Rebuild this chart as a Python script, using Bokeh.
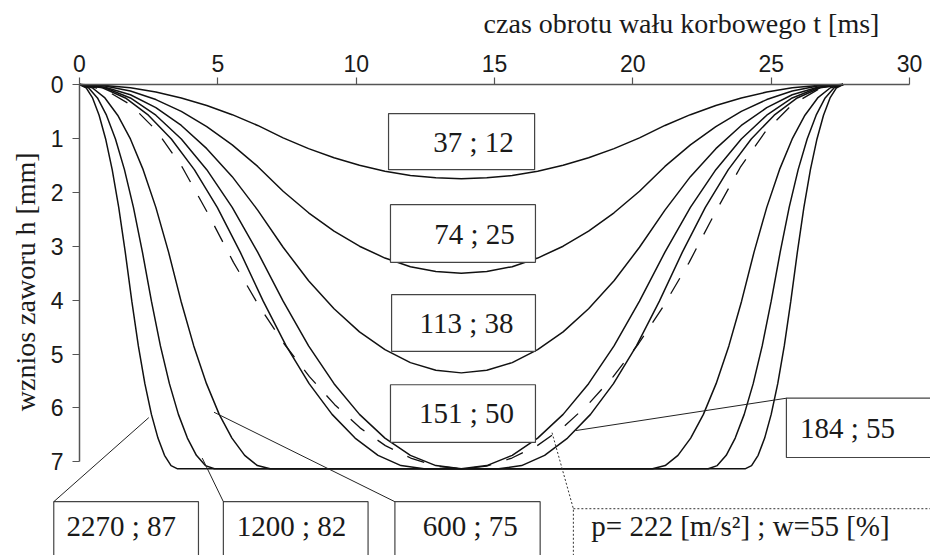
import math
from bokeh.plotting import figure
from bokeh.models import Range1d, LinearAxis, FixedTicker
from bokeh.core.properties import value
from bokeh.embed import file_html
from bokeh.resources import INLINE

# ---------------- data ----------------
x_ticks = [0, 5, 10, 15, 20, 25, 30]
y_ticks = [0, 1, 2, 3, 4, 5, 6, 7]
x_title = "czas obrotu wału korbowego t [ms]"
y_title = "wznios zaworu h [mm]"

# time samples (ms) shared by the four symmetric curves
t_sym = [0, 0.92, 1.84, 2.76, 3.68, 4.6, 5.52, 6.44, 7.36, 8.28, 9.2, 10.12, 11.04,
         11.96, 12.88, 13.8, 14.72, 15.64, 16.56, 17.48, 18.4, 19.32, 20.24, 21.16,
         22.08, 23.0, 23.92, 24.84, 25.76, 26.68, 27.6]
h_37 = [0, 0.02, 0.06, 0.14, 0.25, 0.39, 0.56, 0.76, 0.99, 1.19, 1.36, 1.50, 1.61, 1.69,
        1.73, 1.75, 1.73, 1.69, 1.61, 1.50, 1.36, 1.19, 0.99, 0.76, 0.56, 0.39, 0.25,
        0.14, 0.06, 0.02, 0]
h_74 = [0, 0.03, 0.12, 0.28, 0.50, 0.78, 1.12, 1.52, 1.98, 2.38, 2.72, 3.00, 3.22, 3.38,
        3.47, 3.50, 3.47, 3.38, 3.22, 3.00, 2.72, 2.38, 1.98, 1.52, 1.12, 0.78, 0.50,
        0.28, 0.12, 0.03, 0]
h_113 = [0, 0.05, 0.19, 0.43, 0.76, 1.19, 1.71, 2.33, 3.02, 3.64, 4.16, 4.59, 4.92, 5.16,
         5.30, 5.35, 5.30, 5.16, 4.92, 4.59, 4.16, 3.64, 3.02, 2.33, 1.71, 1.19, 0.76,
         0.43, 0.19, 0.05, 0]
h_151 = [0, 0.06, 0.25, 0.57, 1.01, 1.58, 2.28, 3.11, 4.02, 4.85, 5.55, 6.12, 6.56, 6.88,
         7.07, 7.13, 7.07, 6.88, 6.56, 6.12, 5.55, 4.85, 4.02, 3.11, 2.28, 1.58, 1.01,
         0.57, 0.25, 0.06, 0]

# curves with a dwell at full lift (same lift samples, different times)
h_dwell = [0, 0.06, 0.25, 0.57, 1.01, 1.58, 2.28, 3.11, 4.02, 4.85, 5.55, 6.12, 6.56, 6.88,
           7.07, 7.13, 7.13, 7.07, 6.88, 6.56, 6.12, 5.55, 4.85, 4.02, 3.11, 2.28, 1.58,
           1.01, 0.57, 0.25, 0.06, 0]
t_184 = [0, 0.83, 1.66, 2.49, 3.32, 4.15, 4.98, 5.81, 6.64, 7.47, 8.30, 9.13, 9.96, 10.79,
         11.62, 12.45, 15.15, 15.98, 16.81, 17.64, 18.47, 19.30, 20.13, 20.96, 21.79,
         22.62, 23.45, 24.28, 25.11, 25.94, 26.77, 27.6]
t_600 = [0, 0.46, 0.92, 1.38, 1.84, 2.30, 2.76, 3.22, 3.67, 4.13, 4.59, 5.05, 5.51, 5.97,
         6.43, 6.89, 20.71, 21.17, 21.63, 22.09, 22.55, 23.01, 23.47, 23.93, 24.38, 24.84,
         25.30, 25.76, 26.22, 26.68, 27.14, 27.6]
t_1200 = [0, 0.325, 0.65, 0.975, 1.3, 1.625, 1.95, 2.275, 2.6, 2.925, 3.25, 3.575, 3.9,
          4.225, 4.55, 4.875, 22.725, 23.05, 23.375, 23.7, 24.025, 24.35, 24.675, 25.0,
          25.325, 25.65, 25.975, 26.3, 26.625, 26.95, 27.275, 27.6]
t_2270 = [0, 0.236, 0.473, 0.709, 0.945, 1.182, 1.418, 1.654, 1.891, 2.127, 2.363, 2.6,
          2.836, 3.072, 3.309, 3.545, 24.055, 24.291, 24.528, 24.764, 25.0, 25.237,
          25.473, 25.709, 25.946, 26.182, 26.418, 26.655, 26.891, 27.127, 27.364, 27.6]

# dashed curve p = 222 m/s^2, w = 55 %
t_222 = [0, 0.93, 1.86, 2.79, 3.72, 4.65, 5.565, 6.48, 7.395, 8.31, 9.225, 10.14, 11.055,
         11.97, 12.885, 13.8, 14.715, 15.63, 16.545, 17.46, 18.375, 19.29, 20.205, 21.12,
         22.035, 22.95, 23.88, 24.81, 25.74, 26.67, 27.6]
h_222 = [0, 0.10, 0.38, 0.86, 1.54, 2.40, 3.30, 4.10, 4.81, 5.42, 5.94, 6.37, 6.70, 6.93,
         7.08, 7.13, 7.08, 6.93, 6.70, 6.37, 5.94, 5.42, 4.81, 4.10, 3.30, 2.40, 1.54,
         0.86, 0.38, 0.10, 0]

box_labels = ["37 ; 12", "74 ; 25", "113 ; 38", "151 ; 50", "184 ; 55",
              "2270 ; 87", "1200 ; 82", "600 ; 75"]
p_label = "p= 222 [m/s²] ; w=55 [%]"

# ---------------- layout constants ----------------
# boxes: (left, right, top, bottom) in data units, text centre (x, y)
box_geom = [(11.17, 16.45, 0.54, 1.58), (11.24, 16.48, 2.23, 3.30),
            (11.28, 16.48, 3.90, 4.95), (11.24, 16.48, 5.57, 6.64),
            (25.55, 31.5, 5.82, 6.92), (-0.93, 4.30, 7.74, 8.9),
            (5.20, 10.43, 7.74, 8.9), (11.40, 16.65, 7.74, 8.9)]
text_pos = [(14.24, 1.06), (14.28, 2.77), (13.99, 4.43), (13.99, 6.10),
            (27.76, 6.37), (1.51, 8.20), (7.66, 8.20), (14.12, 8.20)]
leaders = [((-0.93, 2.505), (7.74, 6.18)), ((5.20, 4.435), (7.74, 6.93)),
           ((11.40, 4.861), (7.74, 6.08)), ((25.55, 17.94), (5.82, 6.42))]
y_title_pos = (-1.95, 3.66)

W, H = 930, 555
p = figure(width=W, height=H, output_backend="svg", toolbar_location=None,
           x_range=Range1d(-2.855, 30.758), y_range=Range1d(8.738, -1.558),
           x_axis_location=None, y_axis_location=None,
           min_border_left=0, min_border_right=0, min_border_bottom=0,
           min_border_top=0)
p.outline_line_color = None
p.xgrid.visible = False
p.ygrid.visible = False
p.background_fill_color = "white"
p.border_fill_color = "white"

AX = "#555555"
TICK_FONT = "Arial"
TITLE_FONT = "Times"
xa = LinearAxis(ticker=FixedTicker(ticks=x_ticks), bounds=(0, 30), fixed_location=0)
xa.axis_line_color = AX
xa.axis_line_width = 1.5
xa.major_tick_line_color = AX
xa.major_tick_line_width = 1.2
xa.major_tick_out = 7
xa.major_tick_in = 0
xa.minor_tick_line_color = None
xa.major_label_standoff = 5
xa.major_label_text_font = TICK_FONT
xa.major_label_text_font_size = "23px"
xa.major_label_text_color = "#1a1a1a"
p.add_layout(xa, "above")

# title-only axis: its label is centred on the end of its bounds
xt = LinearAxis(ticker=FixedTicker(ticks=[]), bounds=(0, 21.76), fixed_location=0,
                axis_label=x_title)
xt.axis_line_color = None
xt.major_tick_line_color = None
xt.minor_tick_line_color = None
xt.major_tick_out = 0
xt.major_label_text_font_size = "0px"
xt.axis_label_text_font = TITLE_FONT
xt.axis_label_text_font_style = "normal"
xt.axis_label_text_font_size = "28px"
xt.axis_label_text_color = "#1a1a1a"
xt.axis_label_standoff = 46
xt.axis_label_align = "end"
p.add_layout(xt, "above")

ya = LinearAxis(ticker=FixedTicker(ticks=y_ticks), bounds=(0, 7), fixed_location=0)
ya.axis_line_color = AX
ya.axis_line_width = 1.5
ya.major_tick_line_color = AX
ya.major_tick_line_width = 1.2
ya.major_tick_out = 7
ya.major_tick_in = 0
ya.minor_tick_line_color = None
ya.major_label_standoff = 9
ya.major_label_text_font = TICK_FONT
ya.major_label_text_font_size = "23px"
ya.major_label_text_color = "#1a1a1a"
p.add_layout(ya, "left")

# y-axis title (serif, rotated)
p.text(x=[y_title_pos[0]], y=[y_title_pos[1]], text=[y_title], angle=math.pi / 2,
       text_font=value("Liberation Serif"), text_font_size="28px",
       text_align="center", text_baseline="middle", text_color="#1a1a1a")

LC = "#111111"
for h in (h_37, h_74, h_113, h_151):
    p.line(t_sym, h, line_color=LC, line_width=1.5)
for t in (t_184, t_600, t_1200, t_2270):
    p.line(t, h_dwell, line_color=LC, line_width=1.5)
p.line(t_222, h_222, line_color=LC, line_width=1.3, line_dash="18 16")

# boxes
p.quad(left=[b[0] for b in box_geom], right=[b[1] for b in box_geom],
       top=[b[2] for b in box_geom], bottom=[b[3] for b in box_geom],
       fill_color="white", line_color="#444444", line_width=1.2)
p.text(x=[q[0] for q in text_pos], y=[q[1] for q in text_pos], text=box_labels,
       text_font=value("Liberation Serif"), text_font_size="29px",
       text_align="center", text_baseline="middle", text_color="#1a1a1a")
p.text(x=[23.89], y=[8.20], text=[p_label], text_font=value("Liberation Serif"),
       text_font_size="29px", text_align="center", text_baseline="middle",
       text_color="#1a1a1a")

# leader lines
for xs, ys in leaders:
    p.line(list(xs), list(ys), line_color="#222222", line_width=1)
p.line([17.08, 17.85, 17.85], [6.46, 7.87, 8.9], line_color="#333333", line_width=1,
       line_dash="2 2")
p.line([17.85, 31.0], [7.87, 7.87], line_color="#333333", line_width=1, line_dash="2 2")

open("out.html", "w").write(file_html(p, INLINE))
